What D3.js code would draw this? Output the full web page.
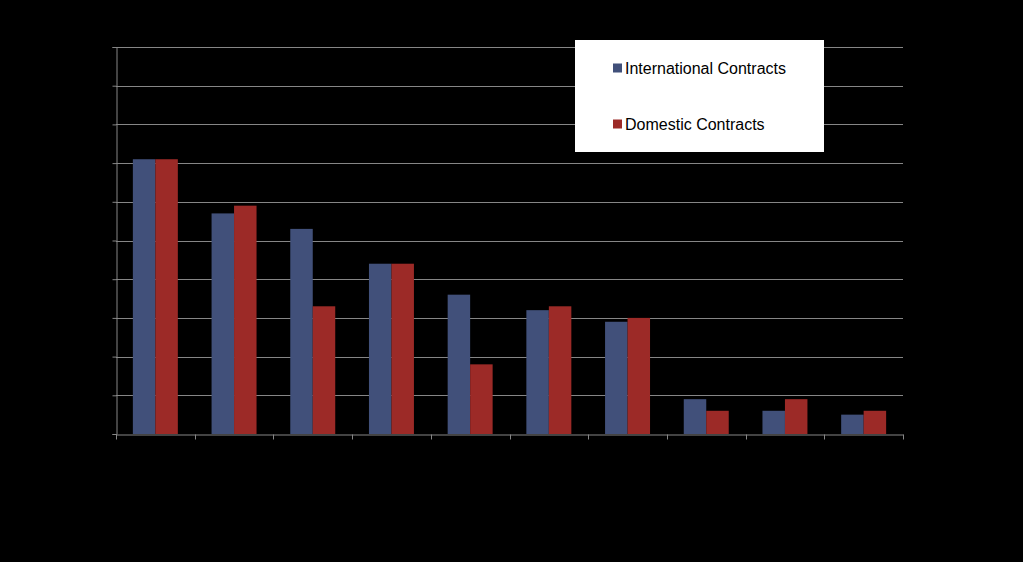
<!DOCTYPE html>
<html>
<head>
<meta charset="utf-8">
<script src="https://cdn.jsdelivr.net/npm/d3@7"></script>
<style>
html,body{margin:0;padding:0;background:#000;}
svg{display:block;}
</style>
</head>
<body>
<svg id="chart" width="1023" height="562"></svg>
<script>
const categories = ["1","2","3","4","5","6","7","8","9","10"];
const seriesNames = ["International Contracts","Domestic Contracts"];
const international = [71,57,53,44,36,32,29,9,6,5];
const domestic = [71,59,33,44,18,33,30,6,9,6];
const yTicks = [0,10,20,30,40,50,60,70,80,90,100];
const colors = ["#41507A","#9C2A27"];

const svg = d3.select("#chart");
const W = 1023, H = 562;
svg.append("rect").attr("width",W).attr("height",H).attr("fill","#000");

const m = {left:116, right:W-903, top:47, bottom:H-434};
const x = d3.scaleBand().domain(categories).range([m.left, W-m.right]).paddingInner(0).paddingOuter(0);
const y = d3.scaleLinear().domain([0,100]).range([H-m.bottom, m.top]);
const gapFrac = 0.75; // gap width 150% of one bar
const x1 = d3.scaleBand().domain([0,1]).range([0, x.bandwidth()]).paddingOuter(gapFrac).paddingInner(0);

// gridlines
svg.append("g").selectAll("line").data(yTicks.filter(d=>d>0)).join("line")
  .attr("x1", m.left).attr("x2", W-m.right)
  .attr("y1", d=>Math.round(y(d))+0.5).attr("y2", d=>Math.round(y(d))+0.5)
  .attr("stroke","#868686").attr("stroke-width",1);

// y axis
const yAxis = d3.axisLeft(y).tickValues(yTicks).tickSize(4).tickFormat("");
const gy = svg.append("g").attr("transform",`translate(${m.left+0.5},0)`).call(yAxis);
gy.selectAll("path,line").attr("stroke","#868686");

// bars
const data = categories.map((c,i)=>({c, v:[international[i], domestic[i]]}));
const groups = svg.append("g").selectAll("g").data(data).join("g")
  .attr("transform", d=>`translate(${x(d.c)},0)`);
groups.selectAll("rect").data(d=>d.v.map((v,k)=>({v,k}))).join("rect")
  .attr("x", d=>x1(d.k)).attr("width", x1.bandwidth())
  .attr("y", d=>y(d.v)).attr("height", d=>y(0)-y(d.v))
  .attr("fill", d=>colors[d.k]);

// x axis
const xAxis = d3.axisBottom(x).tickSize(0).tickFormat("");
const gx = svg.append("g").attr("transform",`translate(0,${Math.round(y(0))+0.5})`).call(xAxis);
gx.select("path").attr("stroke","#868686");
const bounds = categories.map(c=>x(c)).concat([x(categories[categories.length-1])+x.bandwidth()]);
gx.selectAll("line.b").data(bounds).join("line").attr("class","b")
  .attr("x1", d=>Math.round(d)+0.5).attr("x2", d=>Math.round(d)+0.5)
  .attr("y1",0).attr("y2",5).attr("stroke","#868686");

// legend
const lg = svg.append("g").attr("transform","translate(575,40)");
lg.append("rect").attr("width",249).attr("height",112).attr("fill","#fff");
seriesNames.forEach((n,i)=>{
  const yy = 28 + i*56;
  lg.append("rect").attr("x",38).attr("y",yy-4.5).attr("width",9).attr("height",9).attr("fill",colors[i]);
  lg.append("text").attr("x",50).attr("y",yy+6).text(n)
    .attr("font-family","Liberation Sans, Arial, sans-serif").attr("font-size",16).attr("fill","#000");
});
</script>
</body>
</html>
